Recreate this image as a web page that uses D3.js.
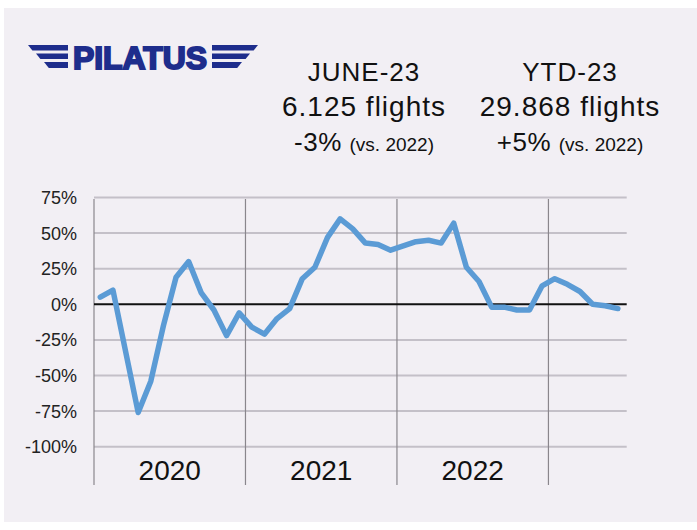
<!DOCTYPE html>
<html>
<head>
<meta charset="utf-8">
<script src="https://cdn.jsdelivr.net/npm/d3@7"></script>
<style>
  html, body { margin: 0; padding: 0; background: #ffffff; }
  svg { display: block; }
  text { font-family: "Liberation Sans", Arial, sans-serif; }
</style>
</head>
<body>
<div class="panel"></div>
<script>
// monthly change vs. same month of previous year, Jan-2020 .. Jun-2023 (%)
const values = [
  5, 10, -33, -76, -54, -15, 19, 30, 8, -4, -22, -6,
  -16, -21, -10, -3, 18, 26, 47, 60, 53, 43, 42, 38,
  41, 44, 45, 43, 57, 26, 16, -2, -2, -4, -4, 13,
  18, 14, 9, 0, -1, -3
];
const years = ["2020", "2021", "2022"];
const yTicks = [75, 50, 25, 0, -25, -50, -75, -100];
const headline = [
  { title: "JUNE-23", flights: "6.125 flights", change: "-3%", note: "(vs. 2022)" },
  { title: "YTD-23", flights: "29.868 flights", change: "+5%", note: "(vs. 2022)" }
];

const width = 697;
const height = 530;

const svg = d3.select(".panel")
    .append("svg")
    .attr("width", width)
    .attr("height", height)
    .attr("viewBox", `0 0 ${width} ${height}`);

svg.append("rect")
   .attr("x", 4).attr("y", 8)
   .attr("width", width - 4).attr("height", height - 16)
   .attr("fill", "#f2eff4");

const x = d3.scaleLinear().domain([0, 42.2]).range([94, 626.7]);
const y = d3.scaleLinear().domain([-100, 75]).range([446.7, 197.5]);

// horizontal grid
svg.append("g")
   .selectAll("line")
   .data(yTicks.filter(d => d !== 0))
   .enter()
   .append("line")
   .attr("x1", x(0)).attr("x2", x(42.2))
   .attr("y1", d => y(d)).attr("y2", d => y(d))
   .attr("stroke", "#c4c0c8")
   .attr("stroke-width", 2);

// year separators + left axis
svg.append("g")
   .selectAll("line")
   .data([0, 12, 24, 36])
   .enter()
   .append("line")
   .attr("x1", d => x(d)).attr("x2", d => x(d))
   .attr("y1", 199).attr("y2", 485)
   .attr("stroke", "#8a868c")
   .attr("stroke-width", 1.2);

// zero line
svg.append("line")
   .attr("x1", x(0)).attr("x2", x(42.2))
   .attr("y1", y(0)).attr("y2", y(0))
   .attr("stroke", "#111")
   .attr("stroke-width", 2);

// y labels
svg.append("g")
   .selectAll("text")
   .data(yTicks)
   .enter()
   .append("text")
   .attr("x", 77)
   .attr("y", d => y(d))
   .attr("dy", "0.36em")
   .attr("text-anchor", "end")
   .attr("font-size", 18)
   .attr("fill", "#222")
   .text(d => d + "%");

// year labels
svg.append("g")
   .selectAll("text")
   .data(years)
   .enter()
   .append("text")
   .attr("x", (d, i) => x(i * 12 + 6))
   .attr("y", 480)
   .attr("text-anchor", "middle")
   .attr("font-size", 28)
   .attr("fill", "#111")
   .text(d => d);

// the series
const line = d3.line()
   .x((d, i) => x(i + 0.5))
   .y(d => y(d));

svg.append("path")
   .datum(values)
   .attr("d", line)
   .attr("fill", "none")
   .attr("stroke", "#5b9bd5")
   .attr("stroke-width", 5.5)
   .attr("stroke-linejoin", "round")
   .attr("stroke-linecap", "round");

// headline figures
const cols = svg.selectAll(".head")
   .data(headline)
   .enter()
   .append("g")
   .attr("class", "head")
   .attr("transform", (d, i) => `translate(${i === 0 ? 364 : 570}, 0)`);

cols.append("text")
    .attr("y", 81)
    .attr("text-anchor", "middle")
    .attr("font-size", 26)
    .attr("letter-spacing", 1)
    .attr("fill", "#111")
    .text(d => d.title);

cols.append("text")
    .attr("y", 116)
    .attr("text-anchor", "middle")
    .attr("font-size", 28)
    .attr("letter-spacing", 1)
    .attr("fill", "#111")
    .text(d => d.flights);

const third = cols.append("text")
    .attr("y", 151)
    .attr("text-anchor", "middle")
    .attr("fill", "#111");
third.append("tspan").attr("font-size", 26).attr("letter-spacing", 0.5).text(d => d.change + " ");
third.append("tspan").attr("font-size", 19).attr("letter-spacing", 0).text(d => d.note);

// logo
const logo = svg.append("g").attr("fill", "#1e2d8c");
logo.append("text")
    .attr("x", 73)
    .attr("y", 68.5)
    .attr("font-size", 32)
    .attr("font-weight", "bold")
    .attr("textLength", 134)
    .attr("lengthAdjust", "spacingAndGlyphs")
    .attr("stroke", "#1e2d8c")
    .attr("stroke-width", 2)
    .text("PILATUS");

const stripes = [[45, 50.5, 28], [53.5, 59, 36], [62, 68, 44]];
stripes.forEach(([t, b, l]) => {
  const s = (b - t) * 0.8;
  logo.append("path").attr("d", `M${l},${t} L68,${t} L68,${b} L${l + s},${b} Z`);
  const r = 258 - (l - 28);
  logo.append("path").attr("d", `M212,${t} L${r},${t} L${r - s},${b} L212,${b} Z`);
});
</script>
</body>
</html>
